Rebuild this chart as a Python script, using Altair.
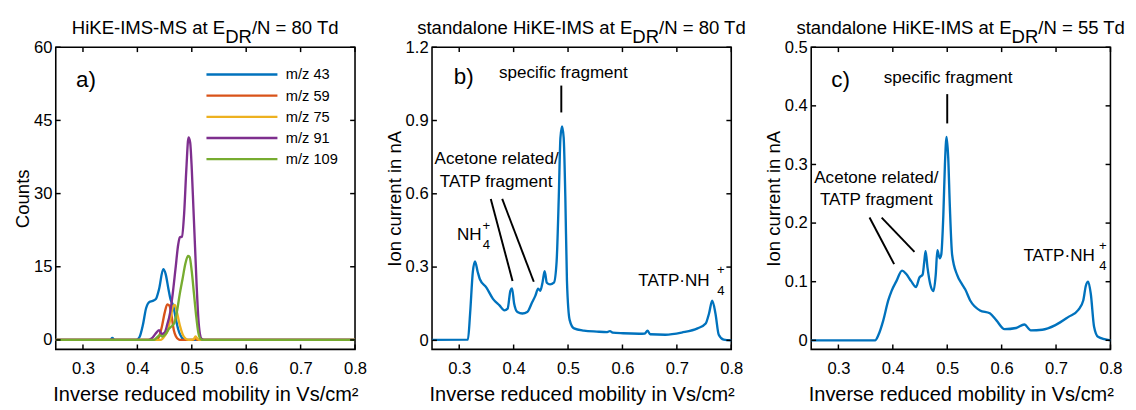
import altair as alt
import pandas as pd

FONT = "Liberation Sans"
W, H = 307, 310
TICK = 5

X_TICKS = [0.3, 0.4, 0.5, 0.6, 0.7, 0.8]
X_DOMAIN = [0.25, 0.8]
X_TITLE = "Inverse reduced mobility in Vs/cm²"

# ---------------- panel a data ----------------
A_SERIES = ["m/z 43", "m/z 59", "m/z 75", "m/z 91", "m/z 109"]
A_COLORS = ["#0072BD", "#D95319", "#EDB120", "#7E2F8E", "#77AC30"]
MZ43_X = [0.25, 0.35, 0.354, 0.358, 0.398, 0.404, 0.41, 0.416, 0.422, 0.428, 0.434, 0.44, 0.4475, 0.452, 0.457, 0.461, 0.466, 0.470, 0.475, 0.479, 0.485, 0.49, 0.8]
MZ43_Y = [0, 0, 0.4, 0, 0, 0.6, 3.0, 6.5, 7.8, 8.0, 8.4, 10.5, 14.5, 13.5, 10.5, 8.3, 7.0, 4.7, 2.2, 1.0, 0.1, 0, 0]
MZ59_X = [0.25, 0.432, 0.438, 0.445, 0.450, 0.455, 0.459, 0.463, 0.467, 0.471, 0.476, 0.48, 0.502, 0.506, 0.51, 0.8]
MZ59_Y = [0, 0, 0.3, 2.7, 5.5, 7.3, 7.0, 4.8, 2.0, 0.7, 0.1, 0, 0, 0.3, 0, 0]
MZ75_X = [0.25, 0.443, 0.45, 0.456, 0.461, 0.466, 0.469, 0.473, 0.478, 0.483, 0.488, 0.494, 0.503, 0.507, 0.511, 0.515, 0.8]
MZ75_Y = [0, 0, 0.8, 2.0, 4.5, 7.0, 7.2, 5.5, 3.0, 1.2, 0.3, 0, 0.1, 0.7, 0.2, 0, 0]
MZ91_X = [0.25, 0.42, 0.428, 0.435, 0.44, 0.445, 0.45, 0.455, 0.46, 0.465, 0.47, 0.475, 0.478, 0.482, 0.486, 0.49, 0.494, 0.497, 0.5, 0.503, 0.506, 0.509, 0.512, 0.515, 0.518, 0.522, 0.8]
MZ91_Y = [0, 0, 0.5, 1.5, 2.0, 1.2, 1.5, 3.2, 5.5, 9.5, 14.5, 19.5, 21.0, 21.2, 26, 35, 41.5, 40.5, 35, 27, 19, 11, 4.5, 1.2, 0.2, 0, 0]
MZ109_X = [0.25, 0.43, 0.436, 0.441, 0.446, 0.452, 0.458, 0.463, 0.468, 0.473, 0.478, 0.483, 0.488, 0.493, 0.496, 0.5, 0.504, 0.508, 0.512, 0.516, 0.52, 0.8]
MZ109_Y = [0, 0, 0.5, 1.0, 0.7, 1.2, 2.3, 2.8, 3.5, 6, 9.5, 12.5, 15.5, 17.2, 17, 14, 9.5, 5, 1.5, 0.2, 0, 0]
A_Y_TICKS = [0, 15, 30, 45, 60]
A_Y_DOMAIN = [-1.94, 60]

# ---------------- panel b data ----------------
B_X = [0.25, 0.316, 0.320, 0.325, 0.329, 0.334, 0.338, 0.350, 0.362, 0.374, 0.383, 0.389, 0.394, 0.397,
       0.401, 0.407, 0.416, 0.425, 0.434, 0.440, 0.445, 0.449, 0.453, 0.457, 0.461, 0.467, 0.474, 0.479,
       0.483, 0.486, 0.489, 0.492, 0.495, 0.498, 0.503, 0.511, 0.529, 0.553, 0.572, 0.577, 0.582, 0.601,
       0.631, 0.641, 0.646, 0.651, 0.679, 0.709, 0.738, 0.753, 0.759, 0.765, 0.771, 0.777, 0.786, 0.80]
B_Y = [0.002, 0.003, 0.11, 0.28, 0.323, 0.28, 0.25, 0.216, 0.17, 0.143, 0.123, 0.13, 0.203, 0.213,
       0.15, 0.116, 0.11, 0.116, 0.156, 0.183, 0.212, 0.203, 0.236, 0.283, 0.236, 0.229, 0.236, 0.323,
       0.589, 0.829, 0.876, 0.829, 0.589, 0.243, 0.083, 0.049, 0.04, 0.036, 0.034, 0.038, 0.032, 0.029,
       0.027, 0.028, 0.04, 0.025, 0.023, 0.032, 0.049, 0.069, 0.109, 0.163, 0.109, 0.023, 0.003, 0.0]
B_Y_TICKS = [0, 0.3, 0.6, 0.9, 1.2]
B_Y_DOMAIN = [-0.037, 1.2]

# ---------------- panel c data ----------------
C_X = [0.25, 0.3675, 0.3735, 0.3825, 0.3916, 0.3976, 0.4066, 0.417, 0.4247, 0.4337, 0.4428, 0.4488,
       0.4548, 0.4578, 0.4602, 0.4639, 0.4687, 0.4747, 0.4789, 0.4819, 0.4861, 0.489, 0.4928, 0.4958,
       0.4988, 0.5018, 0.5048, 0.509, 0.518, 0.5271, 0.533, 0.5422, 0.5602, 0.5783, 0.5904, 0.6054,
       0.6265, 0.6416, 0.6536, 0.6747, 0.6988, 0.7229, 0.741, 0.75, 0.7548, 0.759, 0.7639, 0.7699, 0.7771, 0.8]
C_Y = [0.0, 0.0, 0.009, 0.034, 0.068, 0.084, 0.101, 0.119, 0.113, 0.101, 0.091, 0.107,
       0.112, 0.134, 0.152, 0.123, 0.096, 0.084, 0.112, 0.154, 0.140, 0.146, 0.212, 0.301,
       0.347, 0.312, 0.229, 0.146, 0.112, 0.096, 0.087, 0.068, 0.051, 0.046, 0.034, 0.019,
       0.021, 0.027, 0.017, 0.018, 0.026, 0.040, 0.052, 0.068, 0.093, 0.1, 0.079, 0.023, 0.006, 0.0]
C_Y_TICKS = [0, 0.1, 0.2, 0.3, 0.4, 0.5]
C_Y_DOMAIN = [-0.0155, 0.5]

# ---------------- annotations (data coordinates) ----------------
A_LABELS = {"text": ["a)"], "x": [0.3057], "y": [53.3]}
B_BIG = {"text": ["b)"], "x": [0.3082], "y": [1.076]}
C_BIG = {"text": ["c)"], "x": [0.3039], "y": [0.443]}
B_TEXT = {"text": ["specific fragment", "Acetone related/", "TATP fragment"],
          "x": [0.4914, 0.3688, 0.3678], "y": [1.093, 0.743, 0.649]}
C_TEXT = {"text": ["specific fragment", "Acetone related/", "TATP fragment"],
          "x": [0.5016, 0.3697, 0.3697], "y": [0.448, 0.276, 0.240]}
B_RIGHT = {"text": ["NH", "TATP·NH"], "x": [0.341, 0.7603], "y": [0.429, 0.243]}
B_SUPSUB = {"text": ["+", "4", "+", "4"], "x": [0.3499, 0.3499, 0.781, 0.781],
            "y": [0.469, 0.389, 0.289, 0.203]}
C_RIGHT = {"text": ["TATP·NH"], "x": [0.7712], "y": [0.143]}
C_SUPSUB = {"text": ["+", "4"], "x": [0.7861, 0.7861], "y": [0.1605, 0.126]}
B_SEGS = {"x": [0.4876, 0.358, 0.379], "y": [1.043, 0.579, 0.579],
          "x2": [0.4876, 0.398, 0.437], "y2": [0.933, 0.243, 0.240]}
C_SEGS = {"x": [0.5, 0.3572, 0.3795], "y": [0.42, 0.2094, 0.2094],
          "x2": [0.5, 0.4024, 0.4398], "y2": [0.37, 0.13, 0.151]}

TITLES = [("HiKE-IMS-MS at E", "DR", "/N = 80 Td"),
          ("standalone HiKE-IMS at E", "DR", "/N = 80 Td"),
          ("standalone HiKE-IMS at E", "DR", "/N = 55 Td")]

# Arial/Liberation Sans advance widths (per 1000 em) for title layout
AW = {' ': 278, '-': 333, '/': 278, '=': 584, 'A': 667, 'D': 722, 'E': 667, 'H': 722, 'I': 278,
      'K': 667, 'M': 833, 'N': 722, 'R': 722, 'S': 667, 'T': 611, 'a': 556, 'd': 556, 'e': 556,
      'i': 222, 'l': 222, 'n': 556, 'o': 556, 's': 500, 't': 278}
TITLE_FS = 19


def tw(s, fs):
    return sum(AW.get(c, 556) for c in s) * fs / 1000.0


def title_layers(parts):
    p1, sub, p3 = parts
    w1, w2, w3 = tw(p1, TITLE_FS), tw(sub, TITLE_FS), tw(p3, TITLE_FS)
    x0 = W / 2 - (w1 + w2 + w3) / 2
    out = []
    for txt, xx, yy in [(p1, x0, -14), (sub, x0 + w1, -4), (p3, x0 + w1 + w2, -14)]:
        out.append(alt.Chart(pd.DataFrame({"t": [txt]})).mark_text(
            align="left", baseline="alphabetic", fontSize=TITLE_FS, font=FONT, color="black"
        ).encode(text="t:N", x=alt.value(xx), y=alt.value(yy)))
    return out


def make_axes(ytitle, yticks, yfmt_expr):
    xa = alt.Axis(values=X_TICKS, format=".1f", title=X_TITLE, ticks=False, domain=False, grid=False,
                  labelFlush=False, labelPadding=12, labelFontSize=17, titleFontSize=20.5, titlePadding=8,
                  labelColor="black", titleColor="black", titleFontWeight="normal", labelFont=FONT, titleFont=FONT)
    ya = alt.Axis(values=yticks, title=ytitle, ticks=False, domain=False, grid=False, labelExpr=yfmt_expr,
                  labelFlush=False, labelPadding=4, labelFontSize=17, titleFontSize=19, titlePadding=1,
                  labelColor="black", titleColor="black", titleFontWeight="normal", labelFont=FONT, titleFont=FONT)
    return xa, ya


class Panel:
    def __init__(self, xs, ys, xa, ya):
        self.xs, self.ys, self.xa, self.ya = xs, ys, xa, ya

    def X(self, f):
        return alt.X(f, scale=self.xs, axis=self.xa)

    def Y(self, f):
        return alt.Y(f, scale=self.ys, axis=self.ya)

    def ticks(self, yticks):
        xt = pd.DataFrame({"v": X_TICKS})
        yt = pd.DataFrame({"v": yticks})
        kw = dict(color="black", strokeWidth=1.5)
        return [
            alt.Chart(xt).mark_rule(**kw).encode(x=self.X("v:Q"), y=alt.value(H), y2=alt.value(H - TICK)),
            alt.Chart(xt).mark_rule(**kw).encode(x=self.X("v:Q"), y=alt.value(0), y2=alt.value(TICK)),
            alt.Chart(yt).mark_rule(**kw).encode(y=self.Y("v:Q"), x=alt.value(0), x2=alt.value(TICK)),
            alt.Chart(yt).mark_rule(**kw).encode(y=self.Y("v:Q"), x=alt.value(W), x2=alt.value(W - TICK)),
        ]

    def text(self, d, fs, align="center"):
        return alt.Chart(pd.DataFrame(d)).mark_text(
            fontSize=fs, align=align, baseline="middle", font=FONT, color="black"
        ).encode(x=self.X("x:Q"), y=self.Y("y:Q"), text="text:N")

    def segs(self, d):
        return alt.Chart(pd.DataFrame(d)).mark_rule(color="black", strokeWidth=2).encode(
            x=self.X("x:Q"), y=self.Y("y:Q"), x2="x2:Q", y2="y2:Q")


ZERO_EXPR = "datum.value == 0 ? '0' : format(datum.value, '.1f')"
xs = alt.Scale(domain=X_DOMAIN, nice=False, zero=False)

# ---------------- panel a ----------------
ys_a = alt.Scale(domain=A_Y_DOMAIN, nice=False, zero=False)
pa = Panel(xs, ys_a, *make_axes("Counts", A_Y_TICKS, "format(datum.value, 'd')"))
rows = []
for name, xx, yy in [("m/z 43", MZ43_X, MZ43_Y), ("m/z 59", MZ59_X, MZ59_Y), ("m/z 75", MZ75_X, MZ75_Y),
                     ("m/z 91", MZ91_X, MZ91_Y), ("m/z 109", MZ109_X, MZ109_Y)]:
    for a, b in zip(xx, yy):
        rows.append({"series": name, "x": a, "y": b, "order": len(rows)})
df_a = pd.DataFrame(rows)
line_a = alt.Chart(df_a).mark_line(strokeWidth=2.4, interpolate="monotone").encode(
    x=pa.X("x:Q"),
    y=pa.Y("y:Q"),
    color=alt.Color("series:N", sort=A_SERIES,
                    scale=alt.Scale(domain=A_SERIES, range=A_COLORS),
                    legend=alt.Legend(orient="none", legendX=153, legendY=21, title=None,
                                      symbolType="stroke", symbolSize=5300, symbolStrokeWidth=2.4,
                                      clipHeight=14, rowPadding=6.7, labelFontSize=15, labelOffset=7,
                                      labelColor="black", labelFont=FONT, padding=0)),
    detail="series:N",
    order="order:Q",
)
panel_a = alt.layer(
    line_a, *pa.ticks(A_Y_TICKS), pa.text(A_LABELS, 23), *title_layers(TITLES[0]),
).properties(width=W, height=H)

# ---------------- panel b ----------------
ys_b = alt.Scale(domain=B_Y_DOMAIN, nice=False, zero=False)
pb = Panel(xs, ys_b, *make_axes("Ion current in nA", B_Y_TICKS, ZERO_EXPR))
line_b = alt.Chart(pd.DataFrame({"x": B_X, "y": B_Y})).mark_line(
    strokeWidth=2.4, color="#0072BD", interpolate="monotone").encode(x=pb.X("x:Q"), y=pb.Y("y:Q"))
panel_b = alt.layer(
    line_b, *pb.ticks(B_Y_TICKS), pb.segs(B_SEGS), pb.text(B_BIG, 23), pb.text(B_TEXT, 17.5),
    pb.text(B_RIGHT, 17.5, align="right"), pb.text(B_SUPSUB, 13.5), *title_layers(TITLES[1]),
).properties(width=W, height=H)

# ---------------- panel c ----------------
ys_c = alt.Scale(domain=C_Y_DOMAIN, nice=False, zero=False)
pc = Panel(xs, ys_c, *make_axes("Ion current in nA", C_Y_TICKS, ZERO_EXPR))
line_c = alt.Chart(pd.DataFrame({"x": C_X, "y": C_Y})).mark_line(
    strokeWidth=2.4, color="#0072BD", interpolate="monotone").encode(x=pc.X("x:Q"), y=pc.Y("y:Q"))
panel_c = alt.layer(
    line_c, *pc.ticks(C_Y_TICKS), pc.segs(C_SEGS), pc.text(C_BIG, 23), pc.text(C_TEXT, 17.5),
    pc.text(C_RIGHT, 17.5, align="right"), pc.text(C_SUPSUB, 13.5), *title_layers(TITLES[2]),
).properties(width=W, height=H)

chart = alt.hconcat(panel_a, panel_b, panel_c, spacing=17).configure(
    font=FONT, padding={"left": 5, "top": 5, "right": 2, "bottom": 2}, background="white"
).configure_view(stroke="black", strokeWidth=1.6)

chart.save("out.html", embed_options={"renderer": "svg", "actions": False})
